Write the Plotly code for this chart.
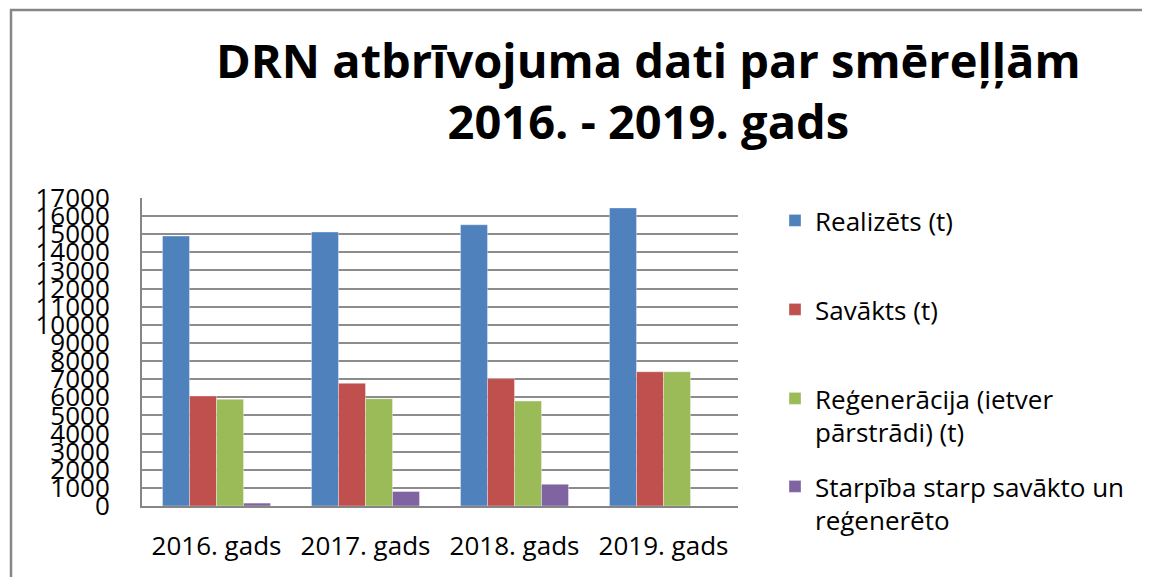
import plotly.graph_objects as go

categories = ["2016. gads", "2017. gads", "2018. gads", "2019. gads"]
realizets = [14900, 15120, 15520, 16450]
savakts = [6070, 6770, 7030, 7410]
regeneracija = [5890, 5920, 5790, 7410]
starpiba = [160, 800, 1200, 0]

series_names = [
    "Realizēts (t)",
    "Savākts (t)",
    "Reģenerācija (ietver<br>pārstrādi) (t)",
    "Starpība starp savākto un<br>reģenerēto",
]
series_values = [realizets, savakts, regeneracija, starpiba]
colors = ["#4F81BD", "#C0504D", "#9BBB59", "#8064A2"]
y_ticks = list(range(0, 17001, 1000))

FONT = "Open Sans"
W, H = 1150, 577
OFF = 8  # page body margin offset
PX_W, PX_H = 596, 308
L = 142 - OFF
T = 198 - OFF
R = W - L - PX_W
B = H - T - PX_H
BOTTOM = T + PX_H  # figure px of plot bottom


def px_x(page_x):
    return (page_x - OFF - L) / PX_W


def px_y(page_y):
    return (BOTTOM - (page_y - OFF)) / PX_H


fig = go.Figure()
legend_ids = ["legend", "legend2", "legend3", "legend4"]
for name, vals, col, lg in zip(series_names, series_values, colors, legend_ids):
    fig.add_trace(go.Bar(
        x=categories, y=vals, name=name, legend=lg,
        marker=dict(color=col, line=dict(color="rgba(255,255,255,0.35)", width=1)),
    ))

legend_tops = [197, 286, 375, 463]
leg_layout = {}
for lg, top in zip(legend_ids, legend_tops):
    leg_layout[lg] = dict(
        x=px_x(775), xanchor="left",
        y=px_y(top), yanchor="top",
        bgcolor="rgba(0,0,0,0)", valign="top",
        font=dict(family=FONT, size=26, color="#000000"),
        itemwidth=30,
    )

fig.update_layout(
    width=W, height=H,
    margin=dict(l=L, r=R, t=T, b=B, pad=0),
    paper_bgcolor="white", plot_bgcolor="white",
    barmode="group", bargap=0.275, bargroupgap=0,
    xaxis=dict(
        showgrid=False, showline=True, linecolor="#868686", linewidth=2,
        ticks="", tickfont=dict(family=FONT, size=26, color="#000000"),
        ticklabelstandoff=16,
    ),
    yaxis=dict(
        range=[0, 17000], tickvals=y_ticks, ticktext=[str(v) for v in y_ticks],
        showgrid=True, gridcolor="#8C8C8C", gridwidth=2,
        showline=True, linecolor="#868686", linewidth=2,
        ticks="", tickfont=dict(family=FONT, size=26, color="#000000"),
        ticklabelstandoff=25, zeroline=False,
    ),
    showlegend=True,
    **leg_layout,
)

fig.add_annotation(
    text="<b>DRN atbrīvojuma dati par smēreļļām<br>2016. - 2019. gads</b>",
    xref="paper", yref="paper", x=px_x(648), y=px_y(90),
    xanchor="center", yanchor="middle", showarrow=False,
    font=dict(family=FONT, size=47, color="#000000"),
)

# outer chart border (cut off at right/bottom like the reference)
fig.add_shape(
    type="rect", xref="paper", yref="paper",
    x0=px_x(11), x1=px_x(1175), y0=px_y(600), y1=px_y(10),
    line=dict(color="#868686", width=2.5), fillcolor="rgba(0,0,0,0)", layer="below",
)

fig.write_html("out.html")
